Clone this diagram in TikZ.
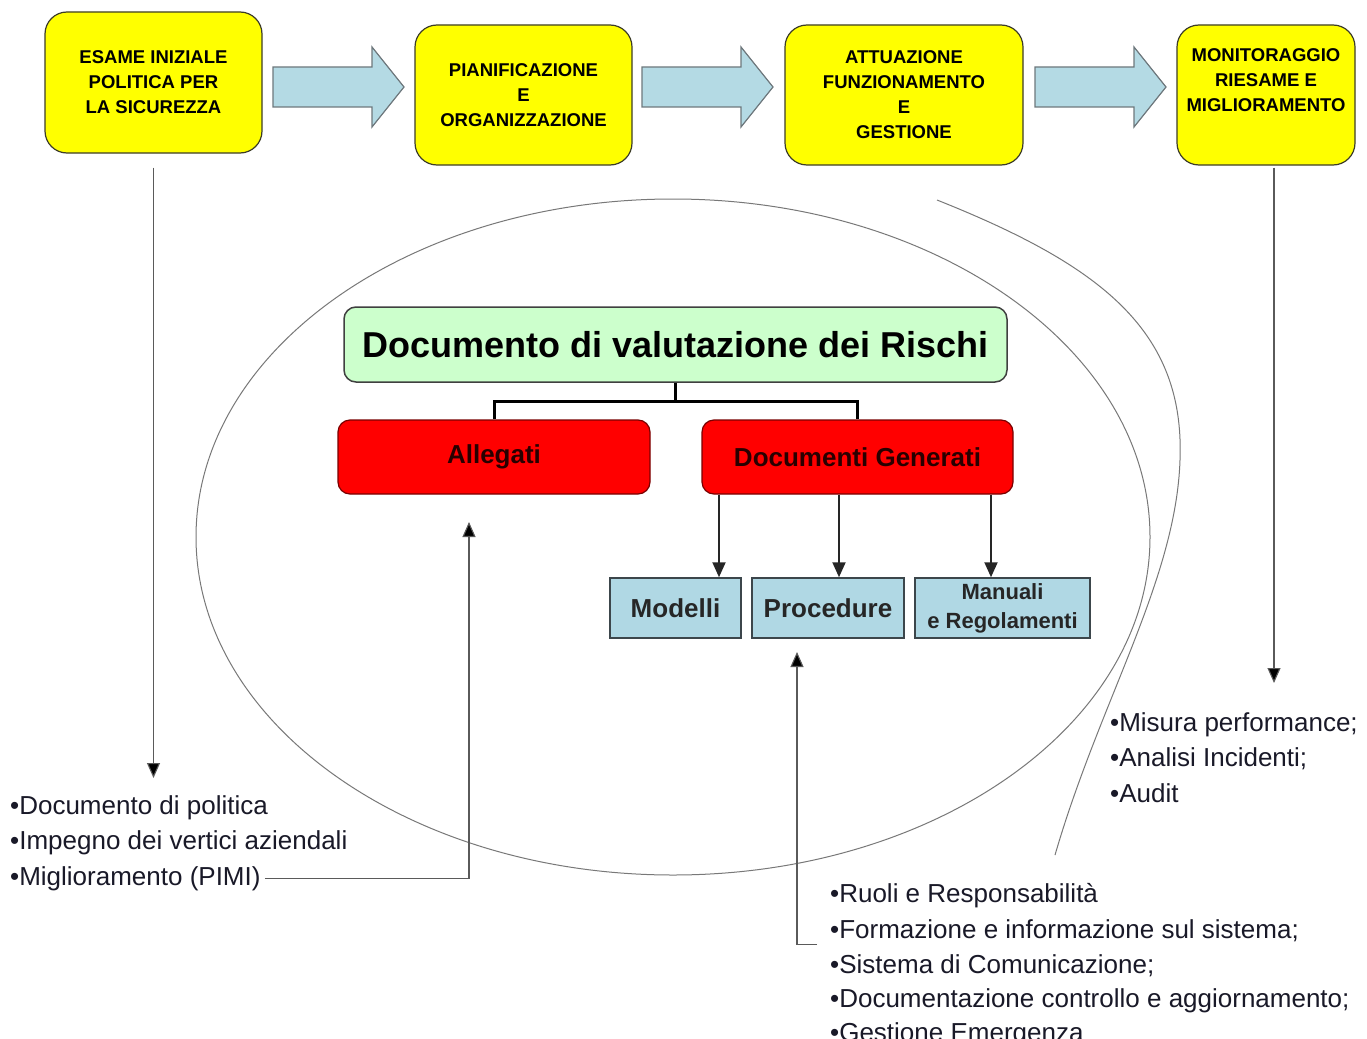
\documentclass[tikz,border=0pt]{standalone}
\usepackage{fontspec}
\setmainfont{Liberation Sans}
\usetikzlibrary{arrows.meta,shapes.geometric,calc}
\definecolor{yfill}{RGB}{255,255,0}
\definecolor{yedge}{RGB}{60,60,40}
\definecolor{arrowblue}{RGB}{180,218,228}
\definecolor{arrowedge}{RGB}{110,120,125}
\definecolor{gfill}{RGB}{204,255,204}
\definecolor{rfill}{RGB}{255,0,0}
\definecolor{redge}{RGB}{120,0,0}
\definecolor{rtext}{RGB}{40,0,0}
\definecolor{bfill}{RGB}{176,216,228}
\definecolor{bedge}{RGB}{60,70,75}
\definecolor{lgray}{RGB}{90,90,90}
\definecolor{ellgray}{RGB}{120,120,120}
\definecolor{ltext}{RGB}{25,25,40}
\begin{document}
\begin{tikzpicture}[x=1pt,y=-1pt,
  ybox/.style={draw=yedge, line width=1.2pt, fill=yfill, rounded corners=22pt,
    align=center, inner sep=0pt, font=\bfseries\fontsize{18.5}{25}\selectfont},
  ytext/.style={align=center, inner sep=0pt, font=\bfseries\fontsize{18.5}{25}\selectfont},
  blockarrow/.style={draw=arrowedge, line width=1.2pt, fill=arrowblue, line join=miter},
  blk/.pic={\path[blockarrow] (0,-20) -- (99,-20) -- (99,-40) -- (131,0) -- (99,40)
    -- (99,20) -- (0,20) -- cycle;},
  gbox/.style={draw=black!75, line width=1.5pt, fill=gfill, rounded corners=12pt,
    inner sep=0pt, font=\bfseries\fontsize{36}{40}\selectfont},
  rbox/.style={draw=redge, line width=1.2pt, fill=rfill, rounded corners=12pt,
    inner sep=0pt, text=rtext, font=\bfseries\fontsize{26}{30}\selectfont},
  sbox/.style={draw=bedge, line width=1.5pt, fill=bfill, inner sep=0pt, align=center,
    text=black!85, font=\bfseries\fontsize{26}{30}\selectfont},
  tree/.style={line width=3pt, black},
  darr/.style={line width=2pt, black!85, -{Triangle[width=13pt,length=15pt]}},
  thinarrow/.style={line width=1.1pt, lgray, -{Triangle[width=13pt,length=15pt,fill=black]}},
  listtext/.style={anchor=base west, inner sep=0pt, text=ltext, font=\fontsize{26}{30}\selectfont},
  ellline/.style={draw=ellgray, line width=1pt},
]
\useasboundingbox (0,0) rectangle (1367,1038);
\clip (0,0) rectangle (1367,1038);
\fill[white] (0,0) rectangle (1367,1038);

% big ellipse and outer curve
\node[ellipse, ellline, minimum width=954pt, minimum height=676pt, inner sep=0pt] (ell) at (673,537) {};
\coordinate (c0) at (937,200);
\coordinate (c1) at (1180,460);
\coordinate (c2) at (1055,855);
\draw[ellline] (c0) .. controls (1100,265) and (1185,330) .. (c1)
  .. controls (1176,580) and (1100,700) .. (c2);

% top process boxes
\node[ybox, minimum width=217pt, minimum height=141pt] (b1) at (153.5,82.5)
  {ESAME INIZIALE\\POLITICA PER\\LA SICUREZZA};
\node[ybox, minimum width=217pt, minimum height=140pt] (b2) at (523.5,95)
  {PIANIFICAZIONE\\E\\ORGANIZZAZIONE};
\node[ybox, minimum width=238pt, minimum height=140pt] (b3) at (904,95)
  {ATTUAZIONE\\FUNZIONAMENTO\\E\\GESTIONE};
\node[ybox, minimum width=178pt, minimum height=140pt] (b4) at (1266,95) {};
\node[ytext] (b4t) at (1266,80) {MONITORAGGIO\\RIESAME E\\MIGLIORAMENTO};

% block arrows
\pic (a1) at (273,87) {blk};
\pic (a2) at (642,87) {blk};
\pic (a3) at (1035,87) {blk};

% document tree
\node[gbox, minimum width=663pt, minimum height=75pt] (dvr) at (675.5,344.5)
  {Documento di valutazione dei Rischi};
\node[rbox, minimum width=312pt, minimum height=74pt] (all) at (494,457) {Allegati};
\node[rbox, minimum width=311pt, minimum height=74pt] (dg) at (857.5,457) {Documenti Generati};
\draw[tree] (dvr.south) -- ++(0,19) coordinate (tj);
\draw[tree] (all.north) |- (tj) -| (dg.north);

\node[sbox, minimum width=131pt, minimum height=60pt] (mod) at (675.5,608) {Modelli};
\node[sbox, minimum width=152pt, minimum height=60pt] (proc) at (828,608) {Procedure};
\node[sbox, minimum width=175pt, minimum height=60pt,
  font=\bfseries\fontsize{22}{29}\selectfont] (man) at (1002.5,608) {Manuali\\e Regolamenti};
\draw[darr] ([xshift=43.5pt]mod.north |- dg.south) -- ([xshift=43.5pt]mod.north);
\draw[darr] ([xshift=11pt]proc.north |- dg.south) -- ([xshift=11pt]proc.north);
\draw[darr] ([xshift=-11.5pt]man.north |- dg.south) -- ([xshift=-11.5pt]man.north);

% left list
\node[listtext] (L1) at (10,814) {•Documento di politica};
\node[listtext] (L2) at (10,849.5) {•Impegno dei vertici aziendali};
\node[listtext] (L3) at (10,885) {•Miglioramento (PIMI)};
\coordinate (e1) at (153.5,778);
\draw[thinarrow] ([yshift=-14pt]b1.south) -- (e1);
\coordinate (e2) at (469,522);
\draw[thinarrow] ([xshift=4pt]L3.east) -| (e2);

% right list
\node[listtext] (R1) at (1110,731) {•Misura performance;};
\node[listtext] (R2) at (1110,766) {•Analisi Incidenti;};
\node[listtext] (R3) at (1110,802) {•Audit};
\coordinate (e4) at (1274,683);
\draw[thinarrow] ([xshift=8pt,yshift=-2pt]b4.south) -- (e4);

% bottom list
\node[listtext] (B1) at (830,902) {•Ruoli e Responsabilità};
\node[listtext] (B2) at (830,938) {•Formazione e informazione sul sistema;};
\node[listtext] (B3) at (830,973.5) {•Sistema di Comunicazione;};
\node[listtext] (B4) at (830,1007) {•Documentazione controllo e aggiornamento;};
\node[listtext] (B5) at (830,1041) {•Gestione Emergenza};
\coordinate (e3) at (797,652);
\draw[thinarrow] ([xshift=-13pt,yshift=-14.5pt]B2.west) -| (e3);
\end{tikzpicture}
\end{document}
